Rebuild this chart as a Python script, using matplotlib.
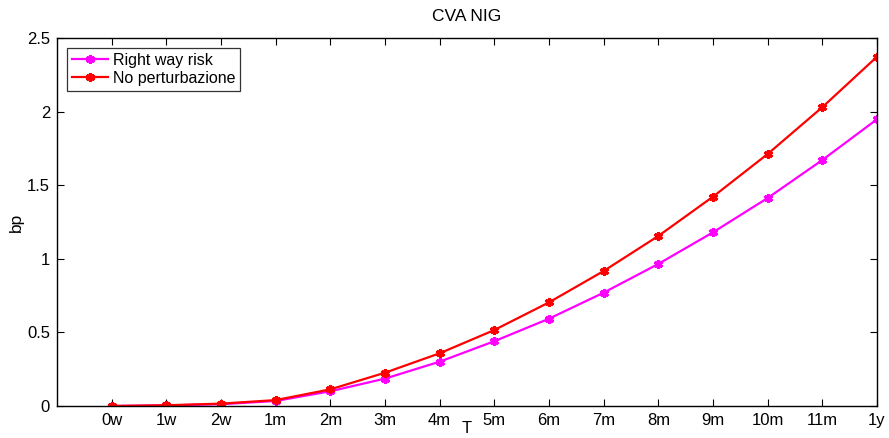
import numpy as np
import matplotlib.pyplot as plt

plt.rcParams['font.family'] = ['Liberation Sans', 'DejaVu Sans']

# Dati
scadenze = ['0w', '1w', '2w', '1m', '2m', '3m', '4m', '5m', '6m', '7m', '8m', '9m', '10m', '11m', '1y']
right_way_risk = [0, 0.004, 0.012, 0.034, 0.10, 0.186, 0.301, 0.44, 0.593, 0.77, 0.965, 1.18, 1.413, 1.671, 1.948]
no_perturbazione = [0, 0.005, 0.016, 0.04, 0.113, 0.226, 0.358, 0.516, 0.704, 0.917, 1.155, 1.422, 1.712, 2.03, 2.373]

x = np.arange(len(scadenze))

fig = plt.figure(figsize=(8.89, 4.38), dpi=100)
ax = fig.add_axes([0.0641, 0.0731, 0.9224, 0.8401])

asterisco = (6, 2, 0)
ax.plot(x, right_way_risk, color='#ff00ff', lw=1.6, marker=asterisco, ms=6.5, mew=2.2, label='Right way risk')
ax.plot(x, no_perturbazione, color='#ff0000', lw=1.6, marker=asterisco, ms=6.5, mew=2.2, label='No perturbazione')

ax.set_xlim(-1, 14)
ax.set_ylim(0, 2.5)
ax.set_xticks(x)
ax.set_xticklabels(scadenze)
ax.set_yticks([0, 0.5, 1, 1.5, 2, 2.5])
ax.set_yticklabels(['0', '0.5', '1', '1.5', '2', '2.5'])
ax.tick_params(direction='in', top=True, right=True, length=5, width=0.8, labelsize=12, pad=5)
for s in ax.spines.values():
    s.set_linewidth(1.0)

ax.set_title('CVA NIG', fontsize=12.5, pad=12)
ax.set_xlabel('T', fontsize=12, labelpad=-5)
ax.set_ylabel('bp', fontsize=12.5, labelpad=2.5)

leg = ax.legend(loc='upper left', bbox_to_anchor=(0.012, 0.973), fontsize=11.5, frameon=True,
                fancybox=False, edgecolor='black', handlelength=2.3, borderpad=0.3,
                labelspacing=0.2, handletextpad=0.3, borderaxespad=0)
leg.get_frame().set_linewidth(0.9)

fig.savefig('out.png', dpi=100)
